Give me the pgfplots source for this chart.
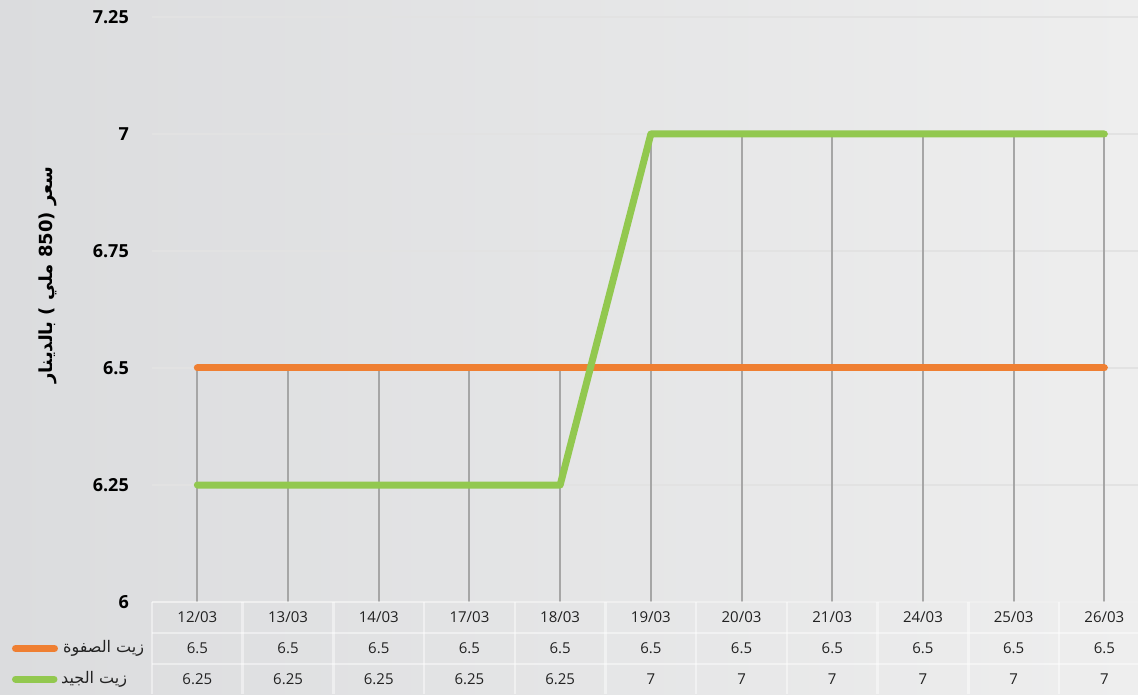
\documentclass[border=0pt]{standalone}
\usepackage{fontspec}
\setmainfont{Open Sans}
\newfontfamily\arabicfont[Script=Arabic]{DejaVu Sans}
\TeXXeTstate=1
\usepackage{pgfplots}
\pgfplotsset{compat=1.18}
\definecolor{orangeS}{HTML}{EF7F32}
\definecolor{greenS}{HTML}{92C84F}
\definecolor{dropgray}{HTML}{A6A6A6}
\definecolor{gridc}{HTML}{E2E2E2}
\definecolor{bgL}{HTML}{DBDCDE}
\definecolor{bgR}{HTML}{EEEEEE}
\definecolor{txt}{HTML}{222222}
\begin{document}
\begin{tikzpicture}[x=1pt,y=1pt]
\shade[left color=bgL,right color=bgR] (-152,-92) rectangle (986,602);
\path[use as bounding box] (-152,-92) rectangle (986,602);
\begin{axis}[at={(0,0)}, anchor=south west, scale only axis,
  width=986pt, height=585pt,
  xmin=-0.5, xmax=10.371, ymin=6, ymax=7.25,
  ytick={6,6.25,6.5,6.75,7,7.25}, xtick=\empty,
  axis line style={draw=none}, major tick length=0pt,
  ymajorgrids, grid style={gridc, line width=1.5pt},
  /pgf/number format/assume math mode=true,
  yticklabel style={font=\fontsize{18}{21}\selectfont\bfseries, text=black, anchor=east, inner sep=0pt, xshift=-23pt},
  clip mode=individual]
\addplot[ycomb, draw=dropgray, line width=2pt, mark=none] coordinates {
  (0,6.5) (1,6.5) (2,6.5) (3,6.5) (4,6.5) (5,7) (6,7) (7,7) (8,7) (9,7) (10,7)};
\addplot[draw=orangeS, line width=7pt, line cap=round, line join=round, mark=none] coordinates {
  (0,6.5) (1,6.5) (2,6.5) (3,6.5) (4,6.5) (5,6.5) (6,6.5) (7,6.5) (8,6.5) (9,6.5) (10,6.5)};
\addplot[draw=greenS, line width=7pt, line cap=round, line join=round, mark=none] coordinates {
  (0,6.25) (1,6.25) (2,6.25) (3,6.25) (4,6.25) (5,7) (6,7) (7,7) (8,7) (9,7) (10,7)};
\end{axis}
% data table grid
\foreach \k in {0,...,10} \draw[white, opacity=0.45, line width=2.5pt] ({\k*90.7},0) -- ({\k*90.7},-92);
\foreach \yy in {0,-31,-62} \draw[white, opacity=0.45, line width=2.5pt] (0,\yy) -- (986,\yy);
% table text
\foreach \d [count=\i from 0] in {12/03,13/03,14/03,17/03,18/03,19/03,20/03,21/03,24/03,25/03,26/03}
  \node[font=\fontsize{15}{18}\selectfont, text=txt, inner sep=0pt] at ({(\i+0.5)*90.7},-15.5) {\d};
\foreach \d [count=\i from 0] in {6.5,6.5,6.5,6.5,6.5,6.5,6.5,6.5,6.5,6.5,6.5}
  \node[font=\fontsize{15}{18}\selectfont, text=txt, inner sep=0pt] at ({(\i+0.5)*90.7},-46.5) {\d};
\foreach \d [count=\i from 0] in {6.25,6.25,6.25,6.25,6.25,7,7,7,7,7,7}
  \node[font=\fontsize{15}{18}\selectfont, text=txt, inner sep=0pt] at ({(\i+0.5)*90.7},-77) {\d};
% legend keys
\draw[orangeS, line width=7pt, line cap=round] (-136.5,-46.5) -- (-97.5,-46.5);
\draw[greenS, line width=7pt, line cap=round] (-136.5,-77) -- (-98,-77);
\node[anchor=west, inner sep=0pt, text=txt, font=\arabicfont\fontsize{16}{19}\selectfont] at (-89,-46.5) {\beginR زيت الصفوة\endR};
\node[anchor=west, inner sep=0pt, text=txt, font=\arabicfont\fontsize{16}{19}\selectfont] at (-91,-77) {\beginR زيت الجيد\endR};
% y label
\node[rotate=90, inner sep=0pt, text=black, font=\arabicfont\bfseries\fontsize{18}{21}\selectfont] at (-104,327) {\beginR سعر (850 ملي ) بالدينار\endR};
\end{tikzpicture}
\end{document}
